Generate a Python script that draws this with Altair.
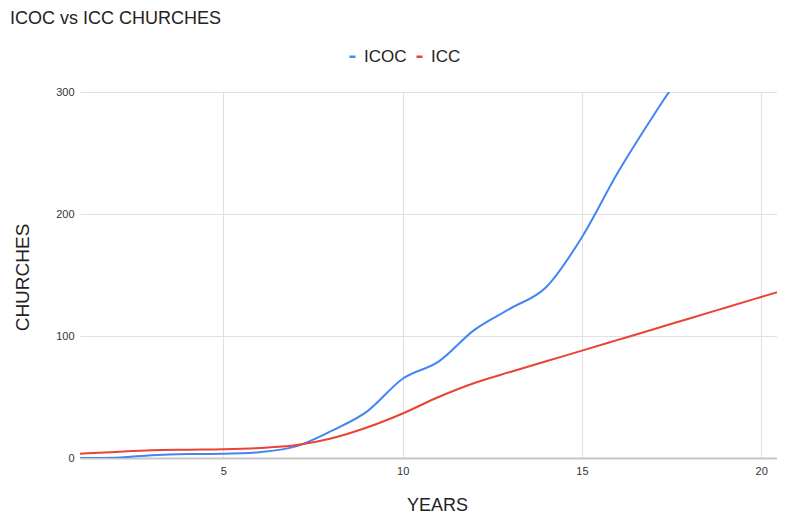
import altair as alt
import pandas as pd

# ---- data ----
years = list(range(1, 22))
icoc = [0, 0.3, 2.2, 3.2, 3.5, 4.8, 9.3, 22, 38, 65, 79, 105, 122.5, 140, 181, 234, 281, 325]
icc = [3.5, 5, 6.3, 6.8, 7.2, 8.2, 10.4, 16, 25, 36.5, 50, 61.5, 70.5, 79.3, 88,
       96.8, 105.6, 114.4, 123.2, 132, 140.8]
series_names = ["ICOC", "ICC"]
series_colors = ["#4285F4", "#EA4335"]
x_ticks = [5, 10, 15, 20]
y_ticks = [0, 100, 200, 300]

rows = []
for name, vals in zip(series_names, [icoc, icc]):
    for yr, v in zip(years, vals):
        rows.append({"year": yr, "churches": v, "series": name})
df = pd.DataFrame(rows)

FONT = "Liberation Sans"

chart = (
    alt.Chart(df)
    .mark_line(strokeWidth=2, interpolate="monotone", clip=True)
    .encode(
        x=alt.X(
            "year:Q",
            scale=alt.Scale(domain=[1, 20.44], nice=False, zero=False),
            axis=alt.Axis(
                values=x_ticks,
                grid=True,
                gridColor="#e0e0e0",
                domainColor="#c6c6c6",
                domainWidth=2,
                ticks=False,
                labelPadding=7,
                labelFontSize=11,
                labelColor="#333",
                title="YEARS",
                titleFontSize=18,
                titleFontWeight="normal",
                titleColor="#222",
                titleX=357,
                titleY=52,
                titleAlign="center",
                titleBaseline="alphabetic",
            ),
        ),
        y=alt.Y(
            "churches:Q",
            scale=alt.Scale(domain=[0, 300], nice=False),
            axis=alt.Axis(
                values=y_ticks,
                grid=True,
                gridColor="#e0e0e0",
                domain=False,
                ticks=False,
                labelPadding=6,
                labelFontSize=11,
                labelColor="#333",
                title="CHURCHES",
                titleFontSize=19,
                titleFontWeight="normal",
                titleColor="#222",
                titleAngle=270,
                titleX=-52,
                titleY=185,
                titleAlign="center",
                titleBaseline="alphabetic",
            ),
        ),
        color=alt.Color(
            "series:N",
            scale=alt.Scale(domain=series_names, range=series_colors),
            legend=alt.Legend(
                title=None,
                orient="none",
                legendX=264,
                legendY=-44,
                direction="horizontal",
                symbolType="stroke",
                symbolSize=36,
                symbolStrokeWidth=2.5,
                labelFontSize=17,
                labelColor="#222",
                labelOffset=3,
                columnPadding=4,
                padding=0,
            ),
        ),
    )
    .properties(
        width=697,
        height=366,
        title=alt.TitleParams(
            "ICOC vs ICC CHURCHES",
            anchor="start",
            frame="group",
            dx=-70,
            dy=-16,
            fontSize=18,
            fontWeight="normal",
            color="#222",
            font=FONT,
        ),
        autosize=alt.AutoSizeParams(type="none"),
        padding={"left": 72, "top": 84, "right": 0, "bottom": 57},
    )
    .configure(font=FONT, background="white")
    .configure_view(stroke=None)
)

chart.save("out.html", embed_options={"renderer": "svg", "actions": False})
